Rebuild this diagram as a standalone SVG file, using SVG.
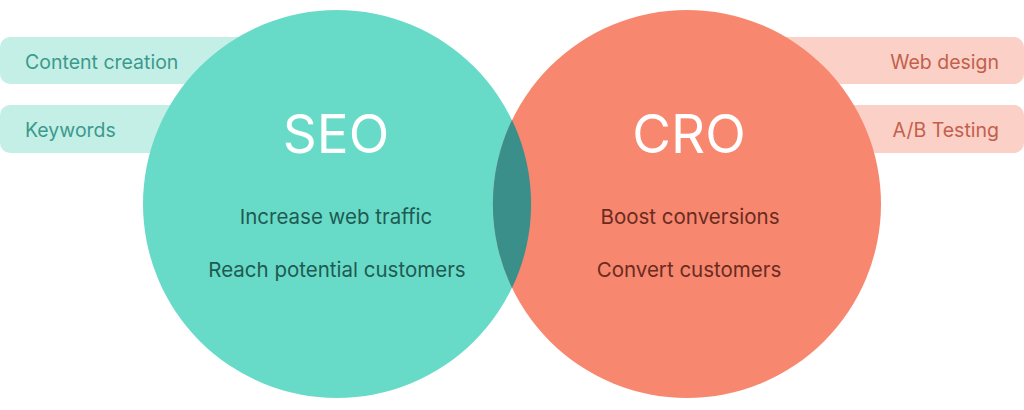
<svg xmlns="http://www.w3.org/2000/svg" width="1024" height="410" viewBox="0 0 1024 410">
<style>
.pillL{fill:#c4efe7}
.pillR{fill:#fbd0c7}
.t{font-family:Inter,"Open Sans",sans-serif;font-weight:400}
.tagL{fill:#3b9a8c;font-size:19.5px}
.tagR{fill:#c2604c;font-size:19.5px}
.big{fill:#ffffff;font-size:53px;font-weight:400}
.subL{fill:#1f5a52;font-size:20.5px}
.subR{fill:#6a2b1f;font-size:20.5px}
</style>
<rect width="1024" height="410" fill="#ffffff"/>
<g id="tag-content-creation"><rect class="pillL" x="0" y="37" width="280" height="47" rx="10"/><text class="t tagL" x="25" y="69">Content creation</text></g>
<g id="tag-keywords"><rect class="pillL" x="0" y="105" width="280" height="48" rx="10"/><text class="t tagL" x="25" y="137">Keywords</text></g>
<g id="tag-web-design"><rect class="pillR" x="744" y="37" width="280" height="47" rx="10"/><text class="t tagR" x="999" y="69" text-anchor="end">Web design</text></g>
<g id="tag-ab-testing"><rect class="pillR" x="744" y="105" width="280" height="48" rx="10"/><text class="t tagR" x="999" y="137" text-anchor="end">A/B Testing</text></g>
<g id="seo"><circle cx="337" cy="204" r="194" fill="#68dbc8"/></g>
<g id="cro"><circle cx="687" cy="204" r="194" fill="#f7876f"/></g>
<g id="overlap"><path d="M512,120 A194,194 0 0 1 512,288 A194,194 0 0 1 512,120 Z" fill="#3a8f8b"/></g>
<g id="seo-text">
<text class="t big" x="336" y="153" text-anchor="middle">SEO</text>
<text class="t subL" x="336" y="224" text-anchor="middle">Increase web traffic</text>
<text class="t subL" x="337" y="277" text-anchor="middle">Reach potential customers</text>
</g>
<g id="cro-text">
<text class="t big" x="689" y="153" text-anchor="middle">CRO</text>
<text class="t subR" x="690" y="224" text-anchor="middle">Boost conversions</text>
<text class="t subR" x="689" y="277" text-anchor="middle">Convert customers</text>
</g>
<g id="connectors"/>
</svg>
